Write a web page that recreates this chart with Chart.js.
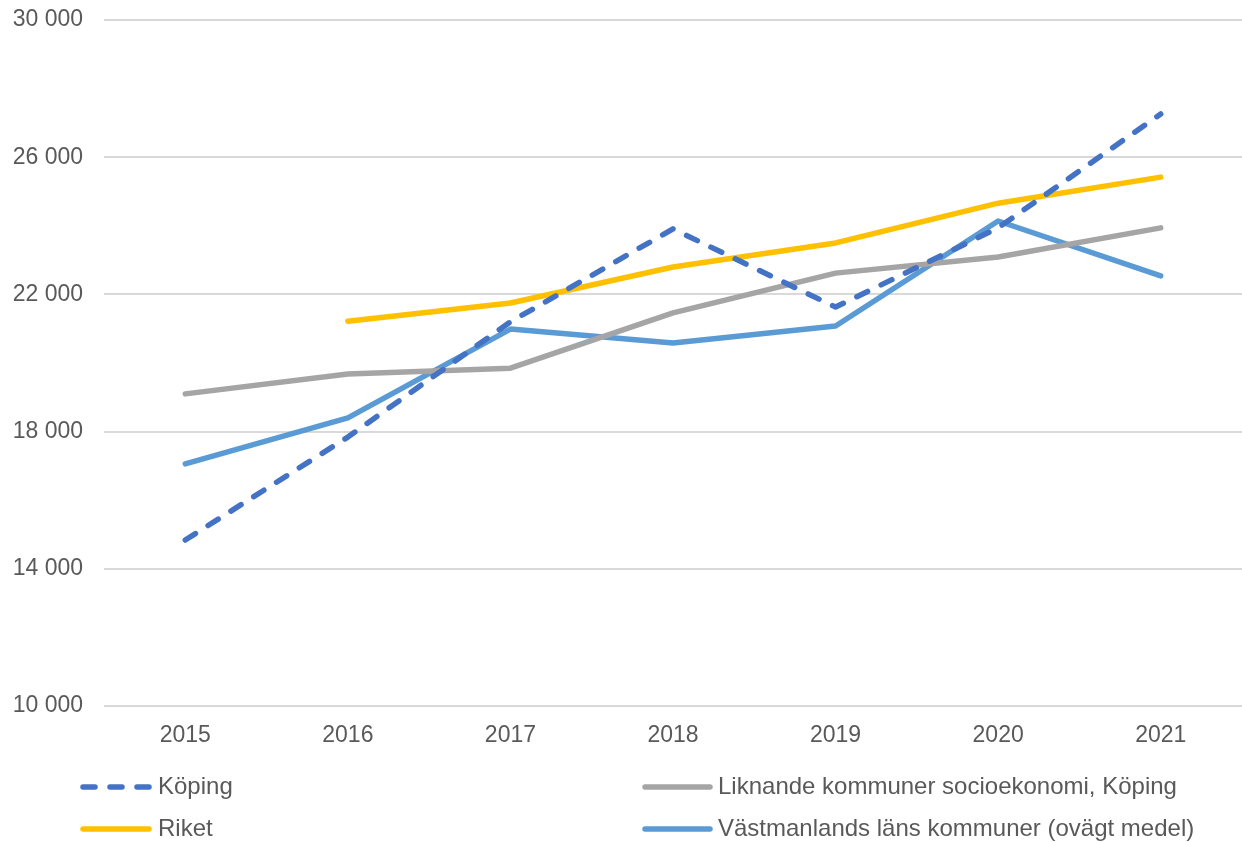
<!DOCTYPE html>
<html>
<head>
<meta charset="utf-8">
<script src="https://cdn.jsdelivr.net/npm/chart.js@4.4.1/dist/chart.umd.min.js"></script>
<style>
  html, body { margin: 0; padding: 0; background: #ffffff; }
  #wrap { position: relative; width: 1242px; height: 842px; }
</style>
</head>
<body>
<div id="wrap"><canvas id="c" width="1242" height="842"></canvas></div>
<script>
const years = ['2015', '2016', '2017', '2018', '2019', '2020', '2021'];
const koping = [14840, 17840, 21200, 23910, 21630, 23940, 27260];
const liknande = [19100, 19680, 19850, 21460, 22620, 23090, 23940];
const riket = [null, 21220, 21750, 22800, 23500, 24660, 25420];
const vastmanland = [17060, 18400, 20990, 20580, 21080, 24140, 22540];
const yTicks = [10000, 14000, 18000, 22000, 26000, 30000];
const seriesNames = ['Köping', 'Liknande kommuner socioekonomi, Köping', 'Riket', 'Västmanlands läns kommuner (ovägt medel)'];

const FONT = '"Liberation Sans", Arial, sans-serif';
const TXT = '#595959';

const legendPlugin = {
  id: 'gridLegend',
  afterDraw(chart) {
    const ctx = chart.ctx;
    const cols = [{ x0: 81, x1: 151, tx: 158 }, { x0: 643, x1: 712, tx: 718 }];
    const rows = [787, 829];
    const place = [[0, 0], [1, 0], [0, 1], [1, 1]];
    chart.data.datasets.forEach((ds, i) => {
      const [ci, ri] = place[i];
      const c = cols[ci], y = rows[ri];
      ctx.save();
      ctx.strokeStyle = ds.borderColor;
      ctx.lineWidth = ds.borderWidth;
      ctx.lineCap = 'round';
      ctx.setLineDash(ds.borderDash || []);
      ctx.beginPath();
      ctx.moveTo(c.x0 + 2, y);
      ctx.lineTo(c.x1 - 2, y);
      ctx.stroke();
      ctx.setLineDash([]);
      ctx.fillStyle = TXT;
      ctx.font = '24px ' + FONT;
      ctx.textBaseline = 'middle';
      ctx.textAlign = 'left';
      ctx.fillText(ds.label, c.tx, y);
      ctx.restore();
    });
  }
};

new Chart(document.getElementById('c'), {
  type: 'line',
  data: {
    labels: years,
    datasets: [
      { label: seriesNames[0], data: koping, borderColor: '#4472C4', borderWidth: 5.5, borderDash: [12, 15], borderCapStyle: 'round', borderJoinStyle: 'round', pointRadius: 0, fill: false, tension: 0 },
      { label: seriesNames[1], data: liknande, borderColor: '#A5A5A5', borderWidth: 5.5, borderCapStyle: 'round', borderJoinStyle: 'round', pointRadius: 0, fill: false, tension: 0 },
      { label: seriesNames[2], data: riket, borderColor: '#FFC000', borderWidth: 5.5, borderCapStyle: 'round', borderJoinStyle: 'round', pointRadius: 0, fill: false, tension: 0 },
      { label: seriesNames[3], data: vastmanland, borderColor: '#5B9BD5', borderWidth: 5.5, borderCapStyle: 'round', borderJoinStyle: 'round', pointRadius: 0, fill: false, tension: 0 }
    ]
  },
  options: {
    responsive: false,
    animation: false,
    devicePixelRatio: 1,
    layout: { padding: { top: 0, right: 0, bottom: 0, left: 0 } },
    plugins: { legend: { display: false }, tooltip: { enabled: false } },
    scales: {
      x: {
        offset: true,
        grid: { display: false, drawTicks: false },
        border: { display: false },
        ticks: { color: TXT, font: { family: FONT, size: 23 }, padding: 16, maxRotation: 0 },
        afterFit(s) { s.height = 136; }
      },
      y: {
        min: 10000, max: 30000,
        afterBuildTicks(s) { s.ticks = yTicks.map(v => ({ value: v })); },
        grid: { color: '#D9D9D9', lineWidth: 2, drawTicks: false },
        border: { display: false },
        ticks: {
          color: TXT, font: { family: FONT, size: 23 }, padding: 21,
          callback: v => String(v).replace(/\B(?=(\d{3})+(?!\d))/g, ' ')
        },
        afterFit(s) { s.width = 104; s.paddingTop = 20; s.paddingBottom = 0; }
      }
    }
  },
  plugins: [legendPlugin]
});
</script>
</body>
</html>
